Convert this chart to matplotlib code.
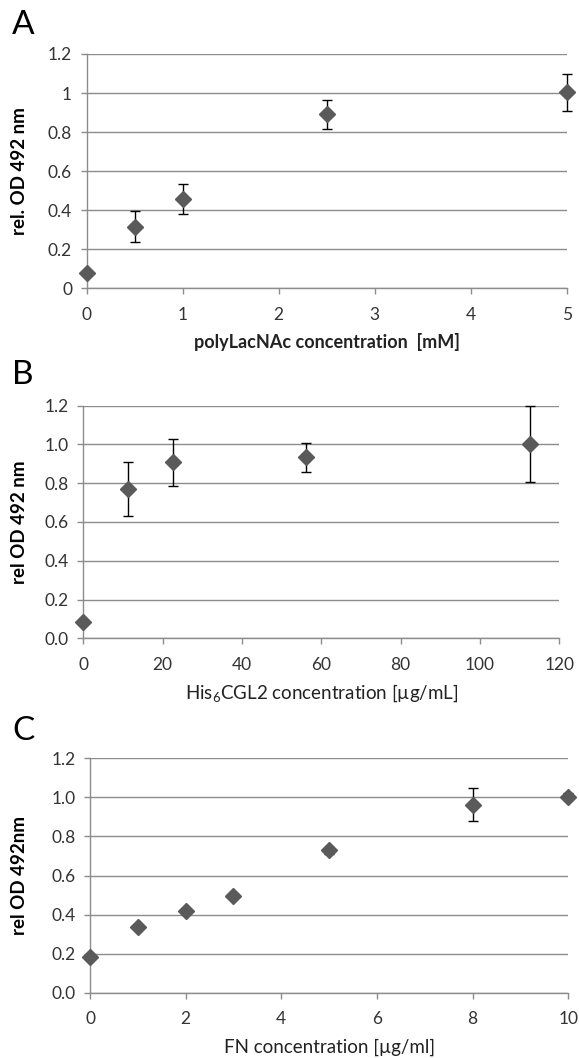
import matplotlib
matplotlib.use("Agg")
import matplotlib.pyplot as plt

plt.rcParams['font.family'] = ['Lato', 'DejaVu Sans']
plt.rcParams['mathtext.fontset'] = 'custom'
plt.rcParams['mathtext.rm'] = 'Lato'

# Panel A data
a_x = [0, 0.5, 1, 2.5, 5]
a_y = [0.078, 0.316, 0.459, 0.891, 1.003]
a_err = [0.01, 0.08, 0.077, 0.074, 0.097]
a_xticks = [0, 1, 2, 3, 4, 5]
a_yticks = [0, 0.2, 0.4, 0.6, 0.8, 1.0, 1.2]
a_yticklabels = ['0', '0.2', '0.4', '0.6', '0.8', '1', '1.2']

# Panel B data
b_x = [0, 11.25, 22.5, 56.25, 112.5]
b_y = [0.086, 0.770, 0.907, 0.934, 1.002]
b_err = [0.01, 0.14, 0.123, 0.076, 0.197]
b_xticks = [0, 20, 40, 60, 80, 100, 120]
b_yticks = [0, 0.2, 0.4, 0.6, 0.8, 1.0, 1.2]
b_yticklabels = ['0.0', '0.2', '0.4', '0.6', '0.8', '1.0', '1.2']

# Panel C data
c_x = [0, 1, 2, 3, 5, 8, 10]
c_y = [0.181, 0.336, 0.416, 0.493, 0.728, 0.963, 1.004]
c_err = [0.01, 0.01, 0.01, 0.01, 0.02, 0.086, 0.02]
c_xticks = [0, 2, 4, 6, 8, 10]
c_yticks = [0, 0.2, 0.4, 0.6, 0.8, 1.0, 1.2]
c_yticklabels = ['0.0', '0.2', '0.4', '0.6', '0.8', '1.0', '1.2']

W, H = 579, 1058
fig = plt.figure(figsize=(W / 100, H / 100), dpi=100)

GRID = '#8c8c8c'
TXT = '#333333'
MK = '#5a5a5a'


def make_axes(l, r, t, b):
    return fig.add_axes([l / W, 1 - b / H, (r - l) / W, (b - t) / H])


panels = [
    dict(box=(86.7, 566.7, 54, 288.3), x=a_x, y=a_y, err=a_err, xt=a_xticks,
         yt=a_yticks, ytl=a_yticklabels, xlim=(0, 5),
         ylabel='rel. OD 492 nm', xlabel='polyLacNAc concentration  [mM]', xbold=True,
         letter='A', letter_y=25, xlabel_y=342),
    dict(box=(83.3, 559.3, 405.7, 638.3), x=b_x, y=b_y, err=b_err, xt=b_xticks,
         yt=b_yticks, ytl=b_yticklabels, xlim=(0, 120),
         ylabel='rel OD 492 nm', xlabel='His$_{\\mathrm{6}}$CGL2 concentration [µg/mL]', xbold=False,
         letter='B', letter_y=375, xlabel_y=693),
    dict(box=(90, 568.3, 758.3, 992.7), x=c_x, y=c_y, err=c_err, xt=c_xticks,
         yt=c_yticks, ytl=c_yticklabels, xlim=(0, 10),
         ylabel='rel OD 492nm', xlabel='FN concentration [µg/ml]', xbold=False,
         letter='C', letter_y=731, xlabel_y=1047),
]

for p in panels:
    l, r, t, b = p['box']
    ax = make_axes(l, r, t, b)
    ax.set_xlim(*p['xlim'])
    ax.set_ylim(0, 1.2)
    ax.set_xticks(p['xt'])
    ax.set_yticks(p['yt'])
    ax.set_yticklabels(p['ytl'])
    for s in ['top', 'right']:
        ax.spines[s].set_visible(False)
    for s in ['left', 'bottom']:
        ax.spines[s].set_color(GRID)
        ax.spines[s].set_linewidth(1.0)
    ax.yaxis.grid(True, color=GRID, linewidth=1.0)
    ax.set_axisbelow(True)
    ax.tick_params(axis='both', colors=GRID, labelcolor=TXT, labelsize=12.5,
                   length=4.5, width=1.0, direction='out')
    ax.tick_params(axis='x', pad=9)
    ax.tick_params(axis='y', pad=6)
    ax.errorbar(p['x'], p['y'], yerr=p['err'], fmt='none', ecolor='black',
                elinewidth=1.0, capsize=3.6, capthick=1.0, clip_on=False, zorder=3)
    ax.plot(p['x'], p['y'], linestyle='none', marker='D', markersize=8.5,
            color=MK, markeredgecolor=MK, clip_on=False, zorder=4)
    cx = (l + r) / 2
    fig.text(cx / W, 1 - p['xlabel_y'] / H, p['xlabel'], ha='center', va='center',
             fontsize=13 if p['xbold'] else 13.5,
             fontweight='bold' if p['xbold'] else 'normal', color='#222222')
    fig.text(20 / W, 1 - ((t + b) / 2) / H, p['ylabel'], ha='center', va='center',
             rotation=90, fontsize=13.5, fontweight='bold', color='black')
    fig.text(12 / W, 1 - p['letter_y'] / H, p['letter'], ha='left', va='center',
             fontsize=24, color='black')

fig.savefig('out.png', dpi=100, facecolor='white')
